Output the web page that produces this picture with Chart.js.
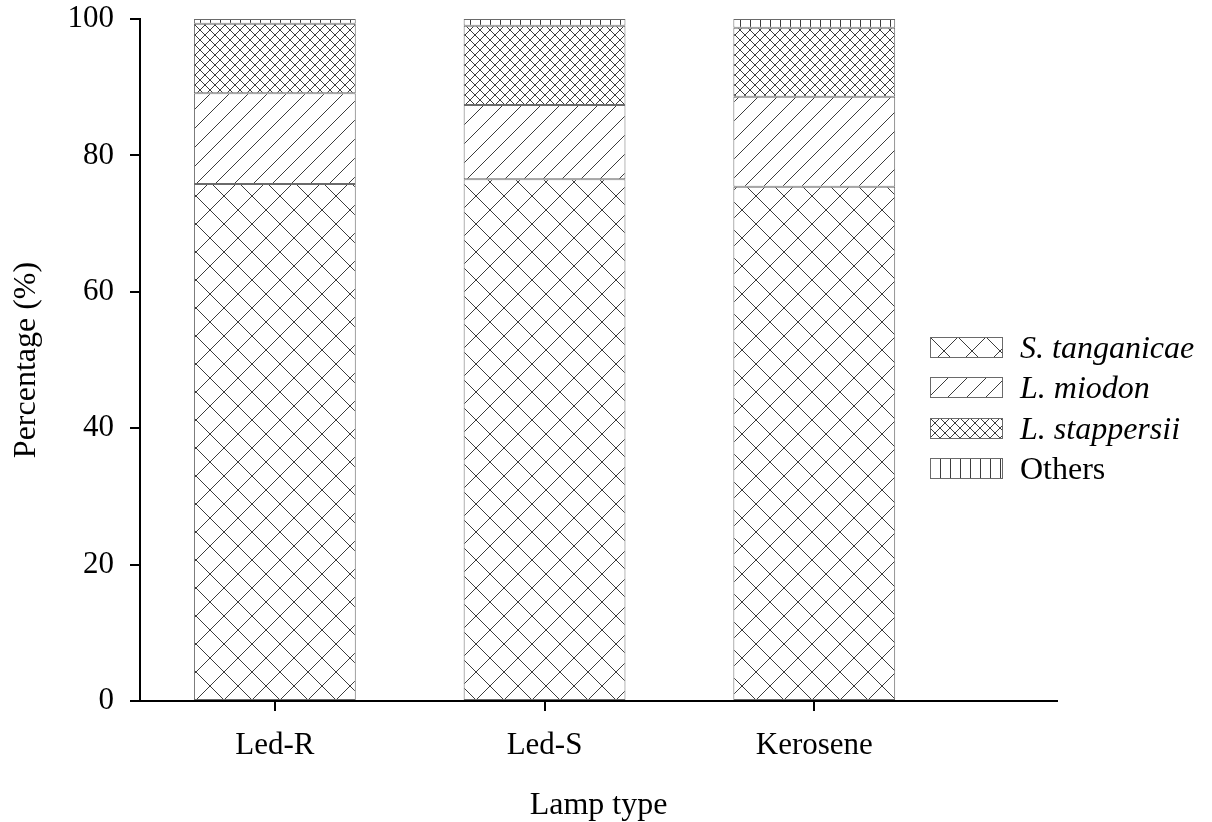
<!DOCTYPE html>
<html>
<head>
<meta charset="utf-8">
<script src="https://cdn.jsdelivr.net/npm/chart.js@4/dist/chart.umd.min.js"></script>
<style>
  html, body { margin: 0; padding: 0; background: #fff; }
  #wrap { position: relative; width: 1212px; height: 822px; }
  #leyenda {
    position: absolute; left: 930px; top: 327px;
    font-family: "Liberation Serif", "Times New Roman", serif;
    font-size: 32px; color: #000;
  }
  .fila { display: flex; align-items: center; height: 40.5px; }
  .fila canvas { width: 73px; height: 21px; margin-right: 17px; }
</style>
</head>
<body>
<div id="wrap">
  <canvas id="grafico" width="1212" height="822"></canvas>
  <div id="leyenda"></div>
</div>
<script>
const categories = ["Led-R", "Led-S", "Kerosene"];
const tanganicae = [75.8, 76.5, 75.4];
const miodon = [13.3, 10.9, 13.2];
const stappersii = [10.2, 11.6, 10.1];
const others = [0.7, 1.0, 1.3];
const yTicks = [0, 20, 40, 60, 80, 100];

const grafico_canvas = document.getElementById("grafico");
const leyenda = document.getElementById("leyenda");
const serif = '"Liberation Serif", "Times New Roman", serif';

// small tiles used as hatch patterns
const makeTile = (size, draw) => {
  const c = document.createElement("canvas");
  c.width = size;
  c.height = size;
  const ctx = c.getContext("2d");
  ctx.fillStyle = "#fff";
  ctx.fillRect(0, 0, size, size);
  ctx.strokeStyle = "#3c3c3c";
  ctx.lineWidth = 1;
  ctx.beginPath();
  draw(ctx, size);
  ctx.stroke();
  return c;
};
const slash = (ctx, s) => {
  for (const k of [-s, 0, s]) { ctx.moveTo(k, s); ctx.lineTo(k + s, 0); }
};
const backslash = (ctx, s) => {
  for (const k of [-s, 0, s]) { ctx.moveTo(k, 0); ctx.lineTo(k + s, s); }
};

const tiles = {
  bigCross: makeTile(28, (ctx, s) => { slash(ctx, s); backslash(ctx, s); }),
  lines: makeTile(19, slash),
  fineCross: makeTile(10, (ctx, s) => { slash(ctx, s); backslash(ctx, s); }),
  vertical: makeTile(10, (ctx, s) => { ctx.moveTo(0.5, 0); ctx.lineTo(0.5, s); }),
};

const series = [
  { name: "S. tanganicae", values: tanganicae, tile: tiles.bigCross, italic: true },
  { name: "L. miodon", values: miodon, tile: tiles.lines, italic: true },
  { name: "L. stappersii", values: stappersii, tile: tiles.fineCross, italic: true },
  { name: "Others", values: others, tile: tiles.vertical, italic: false },
];

const ctx = grafico_canvas.getContext("2d");

const datasets = series.map((s) => ({
  label: s.name,
  data: s.values.map((v, i) => ({ x: i + 1, y: v })),
  backgroundColor: ctx.createPattern(s.tile, "repeat"),
  borderColor: "#6a6a6a",
  borderWidth: 1,
  borderSkipped: false,
  categoryPercentage: 1,
  barPercentage: 0.6,
  tile: s.tile,
  italic: s.italic,
}));

const tickFont = { family: serif, size: 31 };
const titleFont = { family: serif, size: 32, lineHeight: 1 };

const chart = new Chart(grafico_canvas, {
  type: "bar",
  data: { datasets: datasets },
  options: {
    responsive: false,
    animation: false,
    layout: { padding: { top: 19, right: 155, left: 0, bottom: 0 } },
    plugins: { legend: { display: false }, tooltip: { enabled: false } },
    scales: {
      x: {
        type: "linear",
        stacked: true,
        offset: false,
        min: 0.5,
        max: 3.9,
        afterBuildTicks: (sc) => { sc.ticks = categories.map((c, i) => ({ value: i + 1 })); },
        afterFit: (sc) => { sc.height = 121; sc.paddingLeft = 0; sc.paddingRight = 0; },
        ticks: {
          callback: (v) => categories[v - 1],
          font: tickFont,
          color: "#000",
          padding: 16,
          autoSkip: false,
          maxRotation: 0,
        },
        grid: { offset: false, drawOnChartArea: false, tickLength: 10, color: "#000", lineWidth: 2 },
        border: { color: "#000", width: 2 },
        title: { display: true, text: "Lamp type", font: titleFont, color: "#000", padding: { top: 0, bottom: 0 } },
      },
      y: {
        stacked: true,
        min: 0,
        max: 100,
        afterBuildTicks: (sc) => { sc.ticks = yTicks.map((v) => ({ value: v })); },
        afterFit: (sc) => { sc.width = 140; sc.paddingTop = 0; sc.paddingBottom = 0; },
        ticks: { font: tickFont, color: "#000", padding: 16 },
        grid: { drawOnChartArea: false, tickLength: 10, color: "#000", lineWidth: 2 },
        border: { color: "#000", width: 2 },
        title: { display: true, text: "Percentage (%)", font: titleFont, color: "#000", padding: { top: 11, bottom: 0 } },
      },
    },
  },
});

// legend drawn as html so the species names can be italic
chart.data.datasets.forEach((ds) => {
  const fila = document.createElement("div");
  fila.className = "fila";
  const caja = document.createElement("canvas");
  caja.width = 73;
  caja.height = 21;
  const c2 = caja.getContext("2d");
  c2.fillStyle = c2.createPattern(ds.tile, "repeat");
  c2.fillRect(0, 0, 73, 21);
  c2.strokeStyle = "#6a6a6a";
  c2.lineWidth = 1;
  c2.strokeRect(0.5, 0.5, 72, 20);
  const texto = document.createElement("span");
  texto.textContent = ds.label;
  if (ds.italic) texto.style.fontStyle = "italic";
  fila.appendChild(caja);
  fila.appendChild(texto);
  leyenda.appendChild(fila);
});
</script>
</body>
</html>
